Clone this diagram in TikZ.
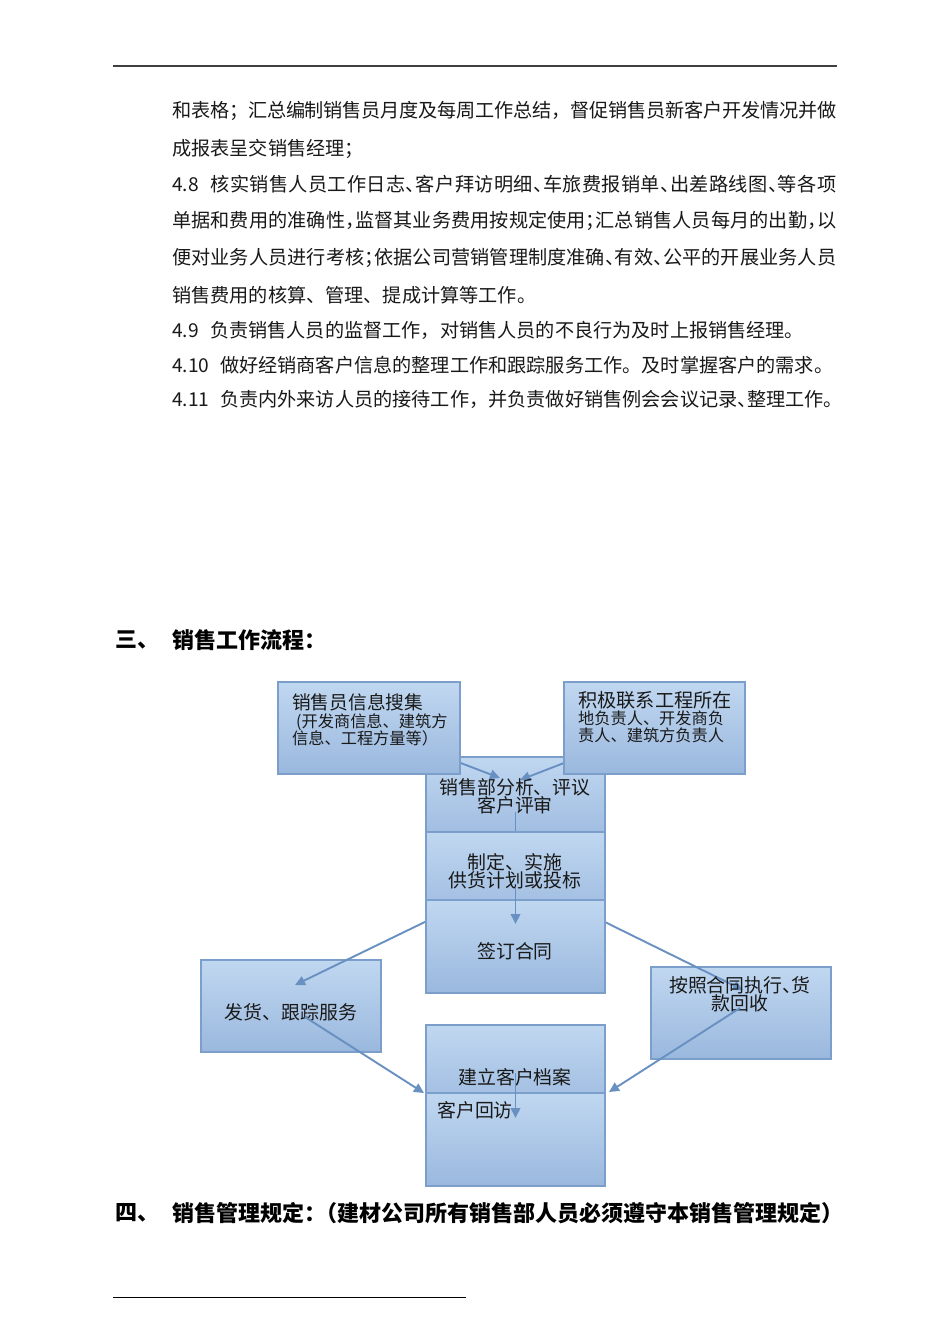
\documentclass[tikz,border=0pt]{standalone}
\usepackage{fontspec}
\setmainfont{Noto Sans CJK SC}
\usetikzlibrary{arrows.meta}
\definecolor{boxtop}{RGB}{192,215,240}
\definecolor{boxbot}{RGB}{154,184,222}
\definecolor{boxline}{RGB}{124,158,203}
\definecolor{arrowc}{RGB}{104,144,192}
\definecolor{inktext}{RGB}{25,25,25}
\ExplSyntaxOn
\cs_new_protected:Npn \spreadline #1#2
  { \hbox_to_wd:nn {#1} { \tl_map_inline:nn {#2} { ##1 \skip_horizontal:n { 0pt ~ plus ~ 1fil ~ minus ~ 1pt } } \unskip } }
\ExplSyntaxOff
\newcommand\hw[1]{\makebox[0.5em][l]{#1}}
\tikzset{
  flowbox/.style={rectangle, draw=boxline, line width=1.6pt, top color=boxtop, bottom color=boxbot,
    inner sep=0pt, minimum width=180pt, minimum height=92pt},
  bodytext/.style={anchor=west, inner sep=0pt, text=inktext, font=\fontsize{19.16}{23}\selectfont},
  headtext/.style={anchor=west, inner sep=0pt, text=black, font=\fontsize{22}{26}\selectfont\bfseries},
  boxtext/.style={inner sep=0pt, text=inktext, font=\fontsize{18.9}{22}\selectfont},
  smallboxtext/.style={anchor=west, inner sep=0pt, text=inktext, font=\fontsize{16.2}{19}\selectfont},
  flowarrow/.style={draw=arrowc, line width=1.9pt, -{Triangle[length=10pt,width=9.5pt]}},
  rulestyle/.style={line width=1.5pt, draw=black!75}
}
\begin{document}
\begin{tikzpicture}[x=1pt,y=-1pt]
\useasboundingbox[fill=white] (0,0) rectangle (950,1344);
% header and footer rules
\coordinate (hrl) at (113,66); \coordinate (hrr) at (837,66);
\draw[rulestyle] (hrl) -- (hrr);
\coordinate (frl) at (113,1297); \coordinate (frr) at (466,1297);
\draw[line width=1pt, draw=black] (frl) -- (frr);

% body text
\node[bodytext] (l1) at (172,111) {\spreadline{664pt}{和表格；汇总编制销售员月度及每周工作总结，督促销售员新客户开发情况并做}};
\node[bodytext] (l2) at (172,149) {成报表呈交销售经理；};
\node[bodytext] (l3) at (172,184) {\spreadline{664pt}{{\makebox[38pt][l]{4.8}}核实销售人员工作日志{\hw{、}}客户拜访明细{\hw{、}}车旅费报销单{\hw{、}}出差路线图{\hw{、}}等各项}};
\node[bodytext] (l4) at (172,221) {\spreadline{664pt}{单据和费用的准确性{\hw{，}}监督其业务费用按规定使用{\hw{；}}汇总销售人员每月的出勤{\hw{，}}以}};
\node[bodytext] (l5) at (172,258) {\spreadline{664pt}{便对业务人员进行考核{\hw{；}}依据公司营销管理制度准确{\hw{、}}有效{\hw{、}}公平的开展业务人员}};
\node[bodytext] (l6) at (172,295) {销售费用的核算、管理、提成计算等工作。};
\node[bodytext] (l7) at (172,330) {\makebox[38pt][l]{4.9}负责销售人员的监督工作，对销售人员的不良行为及时上报销售经理。};
\node[bodytext] (l8) at (172,365) {\makebox[48pt][l]{4.10}做好经销商客户信息的整理工作和跟踪服务工作。及时掌握客户的需求。};
\node[bodytext] (l9) at (172,399) {\makebox[48pt][l]{4.11}负责内外来访人员的接待工作，并负责做好销售例会会议记录\hw{、}整理工作。};

% headings
\node[headtext] (h3n) at (115,640) {三、};
\node[headtext] (h3) at (172,640) {销售工作流程：};
\node[headtext] (h4n) at (115,1213) {四、};
\node[headtext] (h4) at (172,1213) {销售管理规定\hw{：}（建材公司所有销售部人员必须遵守本销售管理规定）};

% coordinates used by connectors
\coordinate (ac) at (369,728);
\coordinate (bc) at (654.5,728);
\coordinate (dc) at (515.5,878);
\coordinate (ctxt) at (515.5,812);
\coordinate (tipac) at (500,778);
\coordinate (tipbc) at (520,780);
\coordinate (tipf) at (295,985);
\coordinate (tipg) at (743,990);
\coordinate (dtxt) at (515.5,888);
\coordinate (tipe) at (515.5,924);
\coordinate (ftxt) at (305,1017);
\coordinate (tipfi) at (424,1093);
\coordinate (gtxt) at (740,1008);
\coordinate (tipgi) at (609,1092);
\coordinate (htxt) at (515.5,1073);
\coordinate (tiphi) at (515.5,1118);

% flow chart
\node[flowbox, minimum width=179pt] (C) at (515.5,803) {};
\draw[flowarrow] (ctxt) -- (dc);
\draw[flowarrow] (ac) -- (tipac);
\draw[flowarrow] (bc) -- (tipbc);
\node[flowbox, minimum width=182pt] (A) at (ac) {};
\node[flowbox, minimum width=181pt] (B) at (bc) {};
\node[boxtext] (c1) at (515,787) {销售部分析、评议};
\node[boxtext] (c2) at (515,805) {客户评审};
\node[boxtext, anchor=west, font=\fontsize{18.7}{22}\selectfont] (a1) at (292,702) {销售员信息搜集};
\node[smallboxtext] (a2) at (296,722) {(开发商信息、建筑方};
\node[smallboxtext] (a3) at (292,738) {信息、工程方量等）};
\node[boxtext, anchor=west, font=\fontsize{19.2}{22}\selectfont] (b1) at (578,700) {积极联系工程所在};
\node[smallboxtext] (b2) at (578,718) {地负责人、开发商负};
\node[smallboxtext] (b3) at (578,735) {责人、建筑方负责人};

\node[flowbox] (F) at (291,1006) {};
\node[flowbox] (G) at (741,1013) {};
\draw[flowarrow] (dc) -- (tipf);
\draw[flowarrow] (dc) -- (tipg);
\node[boxtext] (f1) at (291,1012) {发货、跟踪服务};
\node[boxtext] (g1) at (740,985) {按照合同执行\hw{、}货};
\node[boxtext] (g2) at (740,1003) {款回收};

\node[flowbox, minimum width=179pt] (D) at (dc) {};
\node[flowbox, minimum width=179pt, minimum height=93pt] (E) at (515.5,946.5) {};
\node[boxtext] (d1) at (515,862) {制定、实施};
\node[boxtext] (d2) at (515,880) {供货计划或投标};
\node[boxtext] (e1) at (515,951) {签订合同};
\draw[flowarrow] (dtxt) -- (tipe);

\node[flowbox, minimum width=179pt] (H) at (515.5,1071) {};
\node[flowbox, minimum width=179pt, minimum height=93pt] (I) at (515.5,1139.5) {};
\node[boxtext] (h1) at (515,1077) {建立客户档案};
\node[boxtext, anchor=west] (i1) at (437,1110) {客户回访};
\draw[flowarrow] (ftxt) -- (tipfi);
\draw[flowarrow] (gtxt) -- (tipgi);
\draw[flowarrow] (htxt) -- (tiphi);
\end{tikzpicture}
\end{document}
